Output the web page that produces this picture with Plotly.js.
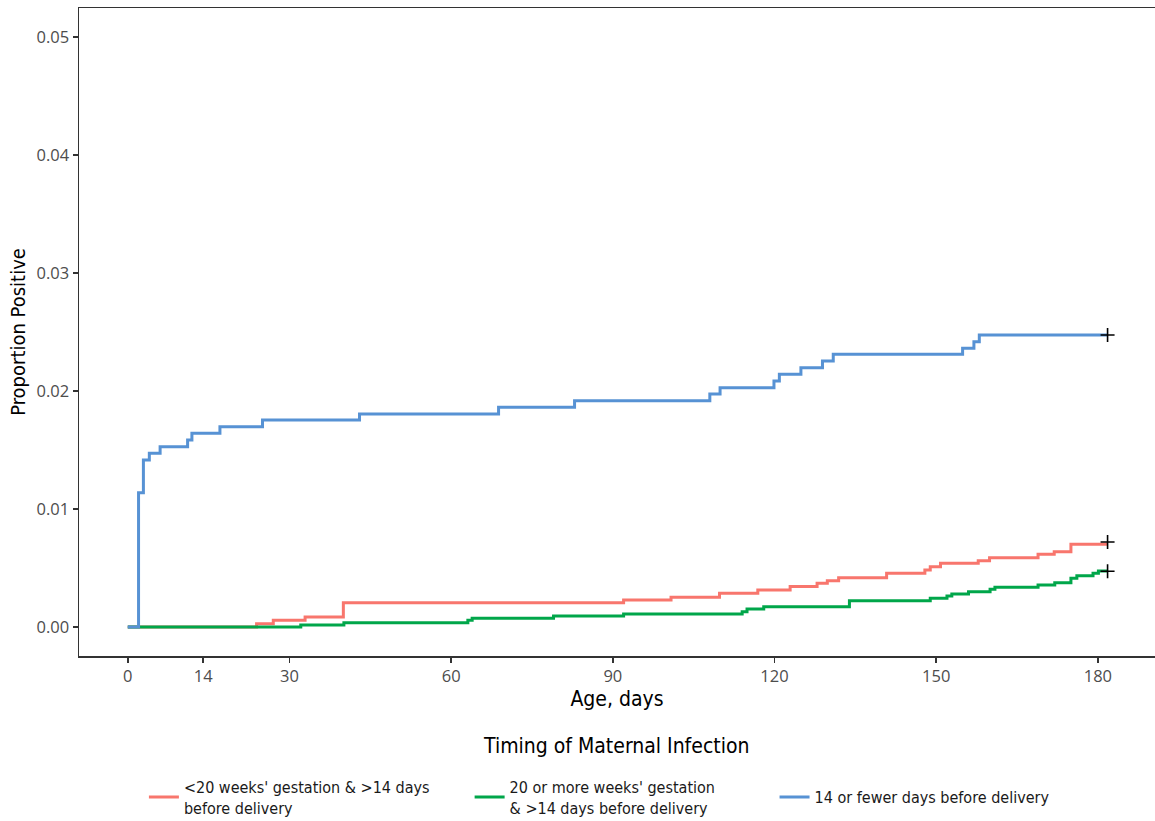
<!DOCTYPE html>
<html>
<head>
<meta charset="utf-8">
<script src="https://cdn.plot.ly/plotly-3.0.1.min.js"></script>
<style>html,body{margin:0;padding:0;background:#fff;overflow:hidden}#chart{width:1155px;height:821px}</style>
</head>
<body>
<div id="chart"></div>
<script>
// Series names
const seriesNames = [
  "<20 weeks' gestation & >14 days<br>before delivery",
  "20 or more weeks' gestation<br>& >14 days before delivery",
  "14 or fewer days before delivery"
];

// <20 weeks' gestation & >14 days before delivery
const redDays = [0, 23.9, 27.0, 32.9, 40.0, 92.0, 100.8, 109.8, 116.9, 122.9, 127.9, 129.8, 131.9, 140.8, 147.9, 148.9, 150.8, 157.8, 159.9, 168.9, 171.9, 175.0, 181.8];
const redVals = [0, 0.00028, 0.00056, 0.00084, 0.00206, 0.00228, 0.00252, 0.00286, 0.00314, 0.00342, 0.0037, 0.00392, 0.00418, 0.00455, 0.00483, 0.00511, 0.0054, 0.00562, 0.00587, 0.00616, 0.00638, 0.00701, 0.00701];

// 20 or more weeks' gestation & >14 days before delivery
const greenDays = [0, 32.1, 40.1, 63.1, 63.9, 79.0, 92.0, 114.0, 114.9, 118.0, 133.9, 148.9, 152.0, 152.9, 156.0, 160.0, 160.9, 168.9, 172.0, 175.0, 176.1, 179.1, 180.1, 181.8];
const greenVals = [0, 0.00017, 0.00036, 0.00057, 0.00074, 0.00093, 0.0011, 0.0013, 0.00153, 0.00172, 0.00223, 0.00243, 0.00263, 0.0028, 0.00299, 0.00319, 0.00336, 0.00356, 0.00375, 0.00412, 0.00435, 0.00455, 0.00475, 0.00475];

// 14 or fewer days before delivery
const blueDays = [0, 2.0, 2.9, 4.0, 6.0, 11.1, 11.9, 17.1, 25.0, 43.0, 68.8, 82.9, 108.0, 109.9, 119.9, 120.9, 124.9, 128.9, 130.9, 154.9, 157.0, 158.0, 181.8];
const blueVals = [0, 0.01138, 0.01415, 0.01472, 0.01528, 0.01585, 0.01641, 0.01698, 0.01754, 0.01805, 0.01862, 0.01918, 0.01975, 0.02028, 0.02085, 0.02141, 0.02198, 0.02254, 0.02311, 0.02362, 0.02418, 0.02475, 0.02475];

// Censor marks (end of follow-up)
const censorDays = [181.8, 181.8, 181.8];
const censorVals = [0.0072, 0.00472, 0.02475];

const xTickVals = [0, 14, 30, 60, 90, 120, 150, 180];
const yTickVals = [0, 0.01, 0.02, 0.03, 0.04, 0.05];
const yTickText = ["0.00", "0.01", "0.02", "0.03", "0.04", "0.05"];

const colors = ["#F8766D", "#00A64A", "#5792D4"];
const FONT = "'Liberation Sans Narrow', 'DejaVu Sans Condensed', 'Open Sans', sans-serif";
const TICKFONT = "'Open Sans', 'Noto Sans', sans-serif";

const mk = (x, y, i, leg) => ({
  x: x, y: y, type: 'scatter', mode: 'lines',
  line: {shape: 'hv', color: colors[i], width: 3},
  name: seriesNames[i], legend: leg, hoverinfo: 'skip'
});

const traces = [
  mk(redDays, redVals, 0, 'legend'),
  mk(greenDays, greenVals, 1, 'legend2'),
  mk(blueDays, blueVals, 2, 'legend3'),
  {x: censorDays, y: censorVals, type: 'scatter', mode: 'markers', showlegend: false,
   marker: {symbol: 'cross-thin', size: 10, color: '#000', line: {color: '#000', width: 1.6}}, hoverinfo: 'skip'}
];

const legBase = (x) => ({
  orientation: 'h', xref: 'container', yref: 'container', x: x, y: 0.029,
  xanchor: 'left', yanchor: 'middle', bgcolor: 'rgba(0,0,0,0)',
  font: {family: FONT, size: 16, color: '#1a1a1a'}, itemwidth: 30, tracegroupgap: 0
});

const layout = {
  width: 1155, height: 821,
  margin: {l: 79, r: 0, t: 8, b: 165},
  paper_bgcolor: '#fff', plot_bgcolor: '#fff',
  font: {family: FONT, color: '#1a1a1a'},
  showlegend: true,
  xaxis: {
    range: [-9.05, 190.6], tickvals: xTickVals, ticktext: xTickVals.map(String),
    showgrid: false, zeroline: false, showline: true, linecolor: '#333', linewidth: 1.5,
    mirror: true, ticks: 'outside', ticklen: 5, tickwidth: 1.5, tickcolor: '#333',
    tickfont: {family: TICKFONT, size: 16.5, color: '#4d4d4d'},
    title: {text: 'Age, days', font: {family: FONT, size: 21, color: '#000'}, standoff: 1}
  },
  yaxis: {
    range: [-0.00246, 0.05246], tickvals: yTickVals, ticktext: yTickText,
    showgrid: false, zeroline: false, showline: true, linecolor: '#333', linewidth: 1.5,
    mirror: false, ticks: 'outside', ticklen: 5, tickwidth: 1.5, tickcolor: '#333',
    tickfont: {family: TICKFONT, size: 16.5, color: '#4d4d4d'},
    title: {text: 'Proportion Positive', font: {family: FONT, size: 20, color: '#000'}, standoff: 5}
  },
  legend: legBase(0.1246),
  legend2: legBase(0.4066),
  legend3: legBase(0.6706),
  annotations: [{
    text: 'Timing of Maternal Infection', xref: 'paper', yref: 'paper',
    x: 0.4988, y: -0.139, xanchor: 'center', yanchor: 'middle', showarrow: false,
    font: {family: FONT, size: 21, color: '#000'}
  }]
};

Plotly.newPlot('chart', traces, layout, {displayModeBar: false, staticPlot: true});
</script>
</body>
</html>
